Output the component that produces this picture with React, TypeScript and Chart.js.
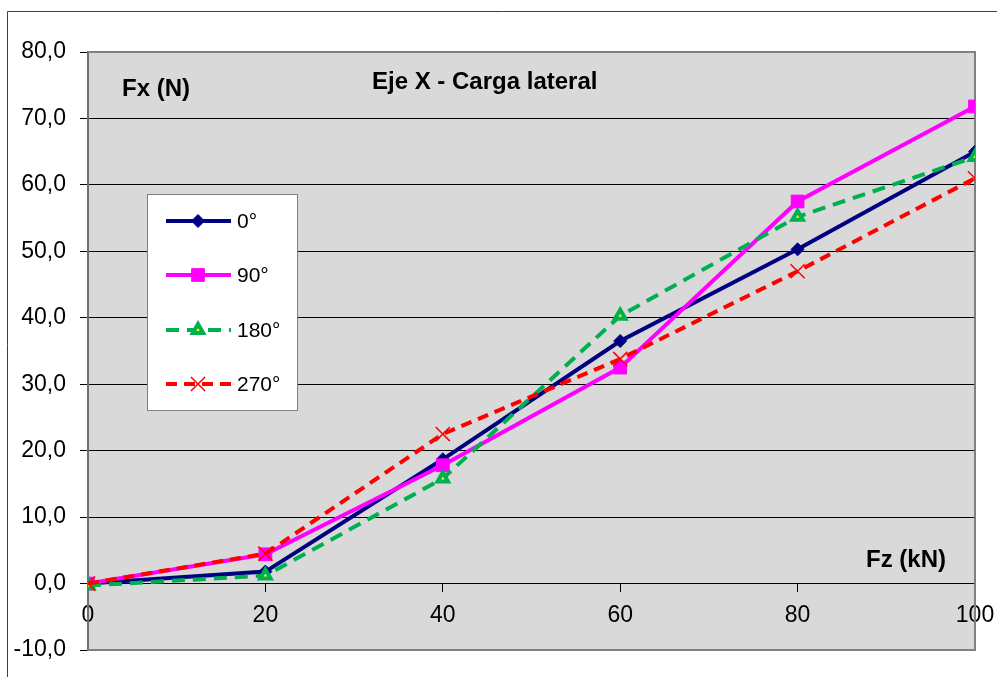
import React, { useEffect, useRef } from 'react';
import { Chart, registerables } from 'chart.js';
import { drawPoint } from 'chart.js/helpers';

Chart.register(...registerables);

const xValues = [0, 20, 40, 60, 80, 100];
const series0 = [0, 1.8, 18.7, 36.5, 50.3, 65.0];
const series90 = [0, 4.4, 17.8, 32.5, 57.5, 71.8];
const series180 = [-0.3, 1.2, 15.8, 40.3, 55.2, 64.2];
const series270 = [0, 4.5, 22.5, 33.8, 47.0, 61.0];
const seriesLabels = ['0°', '90°', '180°', '270°'];
const yMin = -10;
const yMax = 80;
const yStep = 10;
const xMin = 0;
const xMax = 100;
const xStep = 20;
const chartTitle = 'Eje X - Carga lateral';
const yTitle = 'Fx (N)';
const xTitle = 'Fz (kN)';

const FONT = '"Liberation Sans", Arial, sans-serif';

const styles = [
  { color: '#000080', fill: '#000080', dash: [] as number[], pointStyle: 'rectRot', radius: 6.5, pbw: 1 },
  { color: '#ff00ff', fill: '#ff00ff', dash: [] as number[], pointStyle: 'rect', radius: 9, pbw: 1 },
  { color: '#00b050', fill: '#ffff00', dash: [13, 8], pointStyle: 'triangle', radius: 6, pbw: 4 },
  { color: '#ff0000', fill: '#ff0000', dash: [11, 7], pointStyle: 'crossRot', radius: 10, pbw: 1.5 },
];

const allSeries = [series0, series90, series180, series270];

const decorPlugin = {
  id: 'decor',
  beforeDraw(chart: any) {
    const { ctx, chartArea: a } = chart;
    ctx.save();
    ctx.fillStyle = '#ffffff';
    ctx.fillRect(0, 0, chart.width, chart.height);
    ctx.strokeStyle = '#404040';
    ctx.lineWidth = 1;
    ctx.beginPath();
    ctx.moveTo(7.5, chart.height + 2);
    ctx.lineTo(7.5, 11.5);
    ctx.lineTo(chart.width + 2, 11.5);
    ctx.stroke();
    ctx.fillStyle = '#d9d9d9';
    ctx.fillRect(a.left, a.top, a.right - a.left, a.bottom - a.top);
    ctx.restore();
  },
  beforeDatasetsDraw(chart: any) {
    const { ctx, chartArea: a } = chart;
    ctx.save();
    ctx.strokeStyle = '#808080';
    ctx.lineWidth = 2;
    ctx.beginPath();
    ctx.moveTo(a.left, a.top);
    ctx.lineTo(a.right, a.top);
    ctx.lineTo(a.right, a.bottom);
    ctx.lineTo(a.left, a.bottom);
    ctx.stroke();
    ctx.restore();
  },
  afterDraw(chart: any) {
    const { ctx } = chart;
    ctx.save();
    ctx.fillStyle = '#000000';
    ctx.textBaseline = 'alphabetic';
    ctx.textAlign = 'left';
    ctx.font = `bold 24px ${FONT}`;
    ctx.fillText(chartTitle, 372, 89);
    ctx.fillText(yTitle, 122, 96);
    ctx.fillText(xTitle, 866, 567);

    // legend
    ctx.fillStyle = '#ffffff';
    ctx.fillRect(147.5, 194.5, 150, 216);
    ctx.strokeStyle = '#808080';
    ctx.lineWidth = 1;
    ctx.strokeRect(147.5, 194.5, 150, 216);
    const rows = [221, 275, 330, 384];
    styles.forEach((s, i) => {
      const y = rows[i];
      ctx.save();
      ctx.strokeStyle = s.color;
      ctx.lineWidth = 4;
      ctx.setLineDash(s.dash);
      ctx.beginPath();
      ctx.moveTo(166, y);
      ctx.lineTo(231, y);
      ctx.stroke();
      ctx.setLineDash([]);
      ctx.fillStyle = s.fill;
      ctx.strokeStyle = s.color;
      ctx.lineWidth = s.pbw;
      drawPoint(ctx, { pointStyle: s.pointStyle, rotation: 0, radius: s.radius, borderWidth: s.pbw } as any, 198, y);
      ctx.restore();
      ctx.fillStyle = '#000000';
      ctx.font = `21px ${FONT}`;
      ctx.textBaseline = 'middle';
      ctx.fillText(seriesLabels[i], 237, y + 1);
    });
    ctx.restore();
  },
};

export default function App() {
  const ref = useRef<HTMLCanvasElement>(null);
  useEffect(() => {
    if (!ref.current) return;
    const datasets = allSeries.map((vals, i) => {
      const s = styles[i];
      return {
        label: seriesLabels[i],
        data: xValues.map((x, j) => ({ x, y: vals[j] })),
        borderColor: s.color,
        backgroundColor: s.fill,
        borderWidth: 4,
        borderDash: s.dash,
        pointStyle: s.pointStyle,
        pointRadius: s.radius,
        pointBorderWidth: s.pbw,
        pointBackgroundColor: s.fill,
        pointBorderColor: s.color,
        tension: 0,
        fill: false,
        order: 4 - i,
      };
    });
    const chart = new Chart(ref.current, {
      type: 'line',
      data: { datasets } as any,
      options: {
        responsive: false,
        animation: false,
        layout: { padding: { top: 52, right: 22, bottom: 27, left: 0 } },
        plugins: { legend: { display: false }, tooltip: { enabled: false } },
        scales: {
          x: {
            type: 'linear',
            min: xMin,
            max: xMax,
            position: { y: 0 } as any,
            ticks: {
              stepSize: xStep,
              color: '#000',
              font: { family: FONT, size: 23 },
              padding: 10,
              maxRotation: 0,
            },
            grid: { drawOnChartArea: false, drawTicks: true, tickLength: 8, color: '#000' },
            border: { display: true, color: '#000', width: 1 },
            afterFit: (s: any) => { s.paddingLeft = 0; s.paddingRight = 0; },
          },
          y: {
            type: 'linear',
            min: yMin,
            max: yMax,
            ticks: {
              stepSize: yStep,
              color: '#000',
              font: { family: FONT, size: 23 },
              padding: 14,
              callback: (v: any) => Number(v).toFixed(1).replace('.', ','),
            },
            grid: {
              color: (c: any) => (c.tick && (c.tick.value === yMax || c.tick.value === yMin) ? 'rgba(0,0,0,0)' : '#000'),
              tickColor: '#000',
              tickLength: 8,
              lineWidth: 1,
            },
            border: { display: true, color: '#707070', width: 2 },
            afterFit: (s: any) => { s.width = 88; s.paddingTop = 0; s.paddingBottom = 0; },
          },
        },
      },
      plugins: [decorPlugin],
    });
    return () => chart.destroy();
  }, []);
  return (
    <div style={{ position: 'fixed', left: 0, top: 0, width: 997, height: 677 }}>
      <canvas ref={ref} width={997} height={677} style={{ width: 997, height: 677, display: 'block' }} />
    </div>
  );
}
